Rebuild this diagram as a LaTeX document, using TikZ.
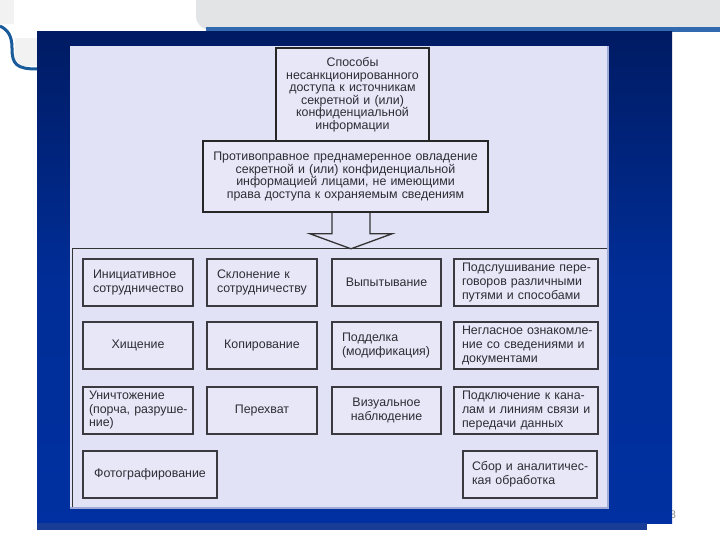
\documentclass[tikz,border=0pt]{standalone}
\usepackage{fontspec}
\setmainfont{Liberation Sans}
\usetikzlibrary{calc}
\definecolor{panel}{RGB}{226,226,246}
\definecolor{boxfill}{RGB}{231,231,248}
\definecolor{boxline}{RGB}{58,58,64}
\definecolor{txt}{RGB}{45,45,52}
\definecolor{bT}{RGB}{0,3,14}
\definecolor{bU}{RGB}{0,22,85}
\definecolor{bM}{RGB}{0,45,150}
\definecolor{bB}{RGB}{0,52,172}
\definecolor{strip}{RGB}{25,60,150}
\definecolor{barGray}{RGB}{226,228,230}
\definecolor{barBlue}{RGB}{50,105,175}
\definecolor{swoosh}{RGB}{25,90,155}
\definecolor{panelEdge}{RGB}{160,170,215}
\pgfdeclareverticalshading{bgblue}{100bp}{color(0bp)=(bB); color(50bp)=(bM); color(82bp)=(bU); color(100bp)=(bT)}
\newcommand{\oneline}[1]{\mbox{#1}}
\tikzset{
  gbox/.style={draw=boxline, line width=1.3pt, fill=boxfill, inner sep=0pt,
    font=\fontsize{12.4}{14}\selectfont, text=txt, minimum height=47pt},
  topbox/.style={draw=black!85, line width=1.6pt, fill=boxfill, inner sep=0pt,
    font=\fontsize{12.4}{12.5}\selectfont, text=txt, align=center},
  bigline/.style={draw=black!80, line width=1.3pt},
  arrowline/.style={draw=black!80, line width=1.3pt, line join=miter},
}
\begin{document}
\begin{tikzpicture}[x=1pt,y=-1pt]
\useasboundingbox (0,0) rectangle (720,540);
\clip (0,0) rectangle (720,540);
\fill[white] (0,0) rectangle (720,540);
% top decoration
\fill[barGray, rounded corners=14pt] (196,-12) rectangle (740,30);
\fill[barBlue] (206,27.5) rectangle (720,32);
% left swoosh
\fill[black!5] (0,0) rectangle (14,24);
\fill[black!5] (15,38) rectangle (37,66);
\draw[swoosh, line width=3pt] (0,26) .. controls (8,30) and (12,36) .. (12,48) .. controls (12,64) and (16,69) .. (37,69);
% page number
\node[font=\fontsize{11}{11}\selectfont, text=black!45, inner sep=0pt] (pg) at (673,515) {8};
% blue background
\fill[shading=bgblue] (37,32) rectangle (672,523);
\fill[strip] (37,523) rectangle (647,530);
% panel
\fill[panel] (70,46) rectangle (608,508);
\draw[panelEdge, line width=1.5pt] (608,46) -- (608,508) -- (70,508);
% top boxes
\node[topbox, minimum width=153pt, minimum height=93pt, text width=150pt] (b1) at (352.5,94.5)
  {Способы\\несанкционированного\\доступа к источникам\\секретной и (или)\\конфиденциальной\\информации};
\node[topbox, minimum width=285pt, minimum height=71pt, text width=282pt] (b2) at (345.5,176.5)
  {\oneline{Противоправное преднамеренное овладение}\\секретной и (или) конфиденциальной\\информацией лицами, не имеющими\\\oneline{права доступа к охраняемым сведениям}};
% big box
\node[minimum width=534pt, minimum height=258pt, inner sep=0pt] (big) at (340,378) {};
\draw[bigline] (big.south west) -- (big.north west) -- (big.north east);
% arrow
\coordinate (at) at ($(b2.south)+(5.5,0)$);
\coordinate (tip) at (at |- big.north);
\draw[arrowline] ($(at)+(-19,0)$) -- ($(at)+(-19,21)$) -- ($(at)+(-41,21)$) -- (tip)
  -- ($(at)+(41,21)$) -- ($(at)+(19,21)$) -- ($(at)+(19,0)$);
% row 1
\node[gbox, minimum width=110pt, text width=90pt, align=left] (r1c1) at (138,282.5) {\oneline{Инициативное}\\\oneline{сотрудничество}};
\node[gbox, minimum width=110pt, text width=90pt, align=left] (r1c2) at (262,282.5) {\oneline{Склонение к}\\\oneline{сотрудничеству}};
\node[gbox, minimum width=109pt, text width=105pt, align=center] (r1c3) at (386.5,282.5) {Выпытывание};
\node[gbox, minimum width=144pt, text width=128pt, align=left] (r1c4) at (526,282.5) {\oneline{Подслушивание пере-}\\\oneline{говоров различными}\\\oneline{путями и способами}};
% row 2
\node[gbox, minimum width=110pt, text width=106pt, align=center] (r2c1) at (138,345.5) {Хищение};
\node[gbox, minimum width=110pt, text width=106pt, align=center] (r2c2) at (262,345.5) {Копирование};
\node[gbox, minimum width=109pt, text width=89pt, align=left] (r2c3) at (386.5,345.5) {\oneline{Подделка}\\\oneline{(модификация)}};
\node[gbox, minimum width=144pt, text width=128pt, align=left] (r2c4) at (526,345.5) {\oneline{Негласное ознакомле-}\\\oneline{ние со сведениями и}\\\oneline{документами}};
% row 3
\node[gbox, minimum width=110pt, text width=98pt, align=left, font=\fontsize{12.4}{13.5}\selectfont] (r3c1) at (138,410.5) {\oneline{Уничтожение}\\\oneline{(порча, разруше-}\\\oneline{ние)}};
\node[gbox, minimum width=110pt, text width=106pt, align=center] (r3c2) at (262,410.5) {Перехват};
\node[gbox, minimum width=109pt, text width=105pt, align=center] (r3c3) at (386.5,410.5) {Визуальное\\наблюдение};
\node[gbox, minimum width=144pt, text width=128pt, align=left] (r3c4) at (526,410.5) {\oneline{Подключение к кана-}\\\oneline{лам и линиям связи и}\\\oneline{передачи данных}};
% row 4
\node[gbox, minimum width=134pt, text width=130pt, align=center] (r4c1) at (150,474.5) {Фотографирование};
\node[gbox, minimum width=134pt, text width=116pt, align=left] (r4c4) at (530,474.5) {\oneline{Сбор и аналитичес-}\\\oneline{кая обработка}};
\end{tikzpicture}
\end{document}
